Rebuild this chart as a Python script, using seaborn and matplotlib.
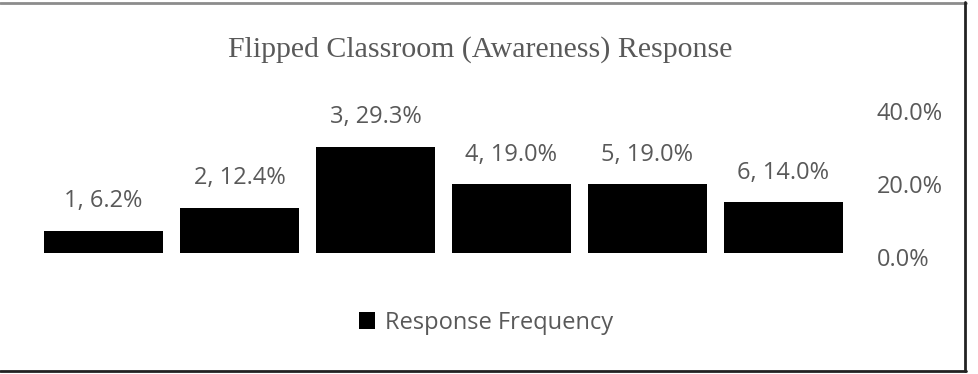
import matplotlib
matplotlib.use("Agg")
import matplotlib.pyplot as plt
import matplotlib.transforms as mtransforms
import seaborn as sns
import pandas as pd
from matplotlib.patches import Patch
from matplotlib.lines import Line2D
from matplotlib.ticker import FuncFormatter

categories = ["1", "2", "3", "4", "5", "6"]
percent = [6.2, 12.4, 29.3, 19.0, 19.0, 14.0]
y_ticks = [0, 20, 40]
title = "Flipped Classroom (Awareness) Response"
series_name = "Response Frequency"

sns.set_theme(style="white")
plt.rcParams["font.family"] = ["Open Sans", "DejaVu Sans"]
GRAY = "#595959"

df = pd.DataFrame({"Rating": categories, "Percent": percent})

W, H = 979, 374
fig = plt.figure(figsize=(W / 100, H / 100), dpi=100)
left, right, bottom_px, top_px = 35.5, 851.5, 253, 108
ax = fig.add_axes([left / W, 1 - bottom_px / H, (right - left) / W, (bottom_px - top_px) / H])

sns.barplot(data=df, x="Rating", y="Percent", color="black", width=0.875,
            saturation=1, ax=ax, edgecolor="none")

ax.set_ylim(0, 40)
ax.set_xlim(-0.5, len(categories) - 0.5)
ax.yaxis.tick_right()
ax.set_yticks(y_ticks)
ax.yaxis.set_major_formatter(FuncFormatter(lambda v, p: f"{v:.1f}%"))
ax.tick_params(axis="y", length=0, pad=18, labelsize=17, labelcolor=GRAY)
offset = mtransforms.ScaledTranslation(0, -3.5 / 100, fig.dpi_scale_trans)
for lab in ax.get_yticklabels():
    lab.set_transform(lab.get_transform() + offset)
ax.set_xticks([])
ax.set_xlabel("")
ax.set_ylabel("")
for s in ax.spines.values():
    s.set_visible(False)

for i, (c, v) in enumerate(zip(categories, percent)):
    ax.annotate(f"{c}, {v:.1f}%", xy=(i, v), xytext=(0, 17), textcoords="offset points",
                ha="center", va="baseline", fontsize=17, color=GRAY, annotation_clip=False)

fig.text(480 / W, 1 - 50 / H, title, ha="center", va="center",
         fontfamily="Liberation Serif", fontsize=21.5, color=GRAY)

handle = Patch(facecolor="black", edgecolor="none")
fig.legend([handle], [series_name], loc="center", bbox_to_anchor=(486 / W, 1 - 323 / H),
           frameon=False, fontsize=17, labelcolor=GRAY, handlelength=0.7,
           handleheight=0.7, handletextpad=0.4)

# outer border (top, right, bottom)
fig.add_artist(Line2D([0, 966 / W], [1 - 2.5 / H, 1 - 2.5 / H], transform=fig.transFigure,
                      color="#8c8c8c", lw=2))
fig.add_artist(Line2D([965 / W, 965 / W], [1 - 371 / H, 1 - 2 / H], transform=fig.transFigure,
                      color="#222222", lw=2))
fig.add_artist(Line2D([0, 966 / W], [1 - 371 / H, 1 - 371 / H], transform=fig.transFigure,
                      color="#222222", lw=2))

fig.savefig("out.png", dpi=100, facecolor="white")
